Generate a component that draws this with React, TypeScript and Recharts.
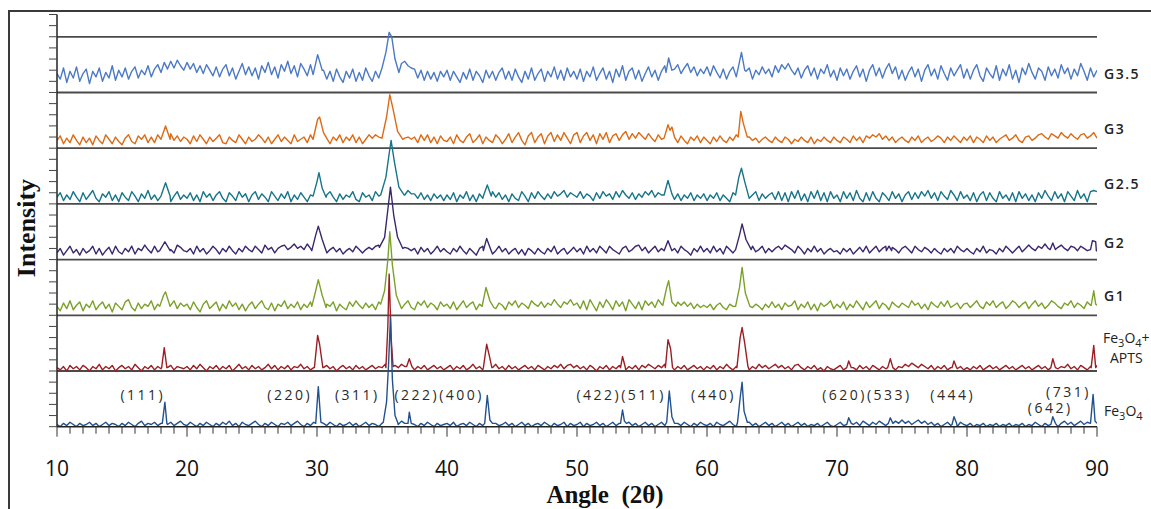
import React from 'react'
import { LineChart, Line, XAxis, YAxis, ReferenceLine, ReferenceDot } from 'recharts'

// background noise of each pattern, read every 0.25 deg from 10 to 90,
// in tenths of a y-tick above the floor of its own panel
const fe3o4Noise = [
  2, 0, 3, 1, 4, 2, 0, 3, 1, 2, 4, 1, 3, 0, 2, 4, 1, 3, 2, 0, 3, 1, 4, 2, 0, 3, 5, 1, 3, 2, 4, 1, 3, 0, 2, 4, 1, 3, 5, 2,
  1, 4, 2, 0, 3, 1, 4, 2, 0, 3, 1, 4, 2, 5, 1, 3, 0, 4, 2, 1, 3, 5, 2, 0, 3, 1, 4, 2, 0, 3, 2, 4, 1, 3, 5, 2, 0, 3, 1, 4,
  2, 0, 3, 1, 4, 2, 0, 3, 1, 2, 4, 1, 3, 0, 2, 4, 1, 3, 2, 0, 3, 5, 2, 6, 4, 2, 5, 3, 1, 4, 2, 0, 3, 1, 4, 2, 0, 3, 1, 2,
  3, 1, 4, 0, 2, 3, 1, 4, 2, 0, 3, 1, 2, 4, 0, 3, 1, 2, 4, 1, 3, 0, 2, 4, 1, 3, 0, 2, 3, 1, 4, 2, 0, 3, 1, 2, 4, 0, 3, 1,
  2, 4, 0, 3, 1, 2, 4, 1, 3, 0, 2, 4, 1, 3, 5, 2, 4, 1, 3, 0, 2, 4, 1, 3, 0, 2, 4, 1, 3, 2, 0, 3, 1, 4, 2, 0, 3, 1, 4, 2,
  1, 3, 0, 4, 2, 1, 3, 5, 2, 0, 3, 5, 2, 4, 1, 3, 0, 2, 4, 1, 3, 0, 2, 4, 1, 3, 0, 2, 4, 1, 3, 0, 2, 1, 3, 0, 2, 4, 1, 0,
  2, 4, 1, 3, 0, 2, 4, 1, 5, 3, 1, 4, 2, 5, 3, 1, 4, 2, 5, 3, 6, 3, 5, 2, 4, 6, 3, 5, 2, 4, 1, 3, 0, 2, 4, 1, 3, 0, 4, 2,
  1, 3, 0, 2, 1, 3, 0, 2, 1, 3, 0, 2, 1, 3, 0, 2, 1, 3, 0, 2, 1, 4, 2, 0, 3, 1, 4, 2, 0, 3, 5, 2, 4, 1, 3, 5, 2, 4, 1, 3,
  3,
]
const aptsNoise = [
  3, 1, 4, 0, 5, 2, 4, 1, 5, 3, 0, 4, 2, 6, 1, 4, 2, 5, 0, 3, 5, 2, 4, 1, 6, 3, 0, 4, 2, 5, 1, 4, 2, 6, 3, 5, 1, 4, 3, 2,
  4, 1, 5, 2, 6, 3, 0, 4, 2, 5, 1, 4, 2, 5, 0, 3, 6, 2, 4, 1, 5, 2, 4, 1, 3, 6, 2, 5, 1, 4, 2, 5, 1, 4, 3, 6, 2, 4, 1, 3,
  4, 1, 3, 5, 2, 4, 0, 3, 5, 2, 4, 1, 5, 2, 4, 1, 3, 5, 2, 4, 3, 6, 4, 7, 5, 3, 6, 4, 5, 3, 1, 4, 2, 5, 1, 3, 5, 2, 4, 1,
  3, 5, 1, 4, 2, 5, 1, 3, 6, 2, 4, 1, 5, 2, 3, 6, 2, 4, 1, 5, 2, 4, 1, 3, 5, 2, 4, 1, 5, 3, 1, 4, 2, 5, 3, 6, 2, 5, 6, 3,
  5, 2, 4, 1, 5, 3, 0, 4, 2, 5, 1, 4, 2, 5, 3, 1, 4, 2, 5, 1, 5, 3, 6, 4, 2, 5, 3, 6, 4, 2, 1, 4, 2, 5, 1, 3, 5, 2, 4, 1,
  4, 2, 5, 1, 4, 2, 6, 3, 1, 4, 2, 5, 3, 1, 4, 2, 6, 3, 5, 2, 4, 6, 3, 5, 2, 4, 1, 5, 6, 3, 1, 4, 2, 5, 1, 3, 0, 4, 2, 1,
  3, 5, 1, 4, 6, 3, 1, 5, 2, 4, 1, 5, 3, 1, 4, 2, 5, 3, 1, 4, 3, 6, 4, 7, 5, 3, 6, 4, 2, 5, 1, 4, 2, 5, 1, 3, 5, 2, 4, 1,
  3, 1, 4, 2, 5, 1, 3, 5, 2, 4, 1, 3, 5, 2, 4, 1, 3, 5, 2, 4, 1, 3, 5, 2, 4, 1, 3, 5, 2, 4, 3, 6, 2, 4, 1, 5, 3, 1, 4, 2,
  5,
]
const g1Noise = [
  8, 4, 11, 6, 13, 5, 9, 12, 4, 10, 7, 13, 5, 9, 12, 6, 10, 3, 11, 8, 5, 12, 14, 7, 4, 11, 6, 10, 8, 13, 5, 10, 4, 12, 7, 9, 13, 6, 11, 8,
  10, 5, 12, 7, 3, 10, 13, 6, 9, 12, 4, 10, 6, 13, 8, 11, 5, 10, 4, 9, 12, 6, 10, 13, 7, 5, 11, 4, 10, 8, 13, 6, 10, 7, 12, 5, 10, 7, 12, 9,
  7, 12, 5, 10, 8, 12, 4, 10, 7, 5, 12, 8, 13, 9, 6, 11, 7, 10, 5, 12, 9, 6, 10, 14, 8, 12, 6, 10, 13, 7, 5, 12, 9, 13, 7, 11, 9, 5, 12, 8,
  10, 6, 12, 5, 9, 13, 7, 10, 12, 5, 10, 7, 12, 9, 13, 6, 11, 9, 5, 12, 9, 13, 7, 11, 9, 6, 13, 10, 8, 12, 7, 11, 9, 14, 10, 7, 12, 10, 14, 9,
  11, 6, 13, 5, 14, 9, 4, 12, 7, 14, 10, 5, 13, 8, 12, 4, 14, 10, 6, 12, 5, 13, 9, 12, 7, 14, 10, 8, 14, 11, 15, 12, 9, 12, 8, 11, 6, 10, 7, 9,
  7, 10, 5, 9, 11, 7, 5, 10, 8, 11, 12, 6, 10, 12, 7, 10, 8, 5, 10, 7, 12, 7, 10, 5, 11, 8, 9, 13, 5, 10, 7, 12, 5, 10, 4, 11, 8, 10, 13, 6,
  10, 7, 12, 5, 10, 7, 13, 9, 5, 12, 7, 10, 13, 6, 11, 9, 5, 12, 9, 7, 11, 9, 7, 13, 9, 11, 6, 10, 5, 12, 9, 7, 12, 8, 13, 7, 9, 11, 6, 10,
  11, 7, 10, 13, 8, 6, 12, 9, 13, 7, 10, 12, 6, 9, 13, 11, 7, 10, 12, 6, 10, 13, 8, 11, 6, 9, 13, 11, 8, 6, 11, 9, 13, 7, 11, 9, 6, 12, 9, 13,
  9,
]
const g2Noise = [
  6, 10, 4, 8, 12, 6, 9, 4, 10, 6, 8, 12, 5, 10, 4, 8, 11, 5, 12, 7, 5, 10, 7, 12, 5, 10, 8, 13, 9, 6, 12, 7, 10, 5, 12, 9, 6, 13, 11, 8,
  7, 10, 5, 12, 7, 10, 5, 8, 12, 9, 5, 10, 7, 12, 8, 5, 10, 7, 12, 9, 7, 12, 9, 6, 13, 9, 11, 6, 10, 12, 13, 9, 11, 14, 10, 12, 9, 14, 10, 12,
  10, 8, 11, 6, 9, 11, 7, 10, 5, 8, 10, 7, 12, 9, 6, 9, 11, 9, 12, 13, 12, 13, 14, 12, 11, 10, 9, 11, 10, 8, 10, 5, 11, 7, 10, 5, 8, 12, 7, 10,
  7, 5, 10, 7, 12, 8, 5, 10, 7, 4, 10, 12, 7, 10, 5, 8, 12, 7, 10, 5, 8, 10, 5, 9, 4, 10, 8, 5, 10, 7, 5, 10, 7, 12, 5, 8, 10, 5, 8, 11,
  7, 10, 5, 12, 7, 10, 6, 12, 9, 6, 12, 9, 7, 5, 10, 12, 7, 9, 12, 13, 8, 11, 6, 9, 12, 7, 10, 5, 12, 7, 10, 6, 12, 9, 7, 4, 10, 7, 12, 7,
  10, 6, 12, 7, 10, 5, 12, 9, 6, 11, 9, 5, 8, 10, 12, 7, 9, 12, 6, 10, 7, 10, 12, 9, 13, 11, 9, 6, 12, 9, 5, 10, 7, 12, 7, 10, 5, 8, 10, 7,
  8, 5, 10, 7, 10, 5, 8, 11, 7, 12, 6, 9, 12, 7, 10, 12, 13, 11, 9, 6, 10, 12, 9, 6, 12, 9, 7, 11, 9, 6, 10, 7, 5, 10, 7, 10, 6, 12, 9, 7,
  10, 7, 5, 10, 7, 12, 6, 9, 8, 5, 10, 7, 12, 9, 6, 9, 12, 7, 10, 13, 10, 8, 12, 10, 14, 10, 12, 8, 11, 13, 10, 8, 12, 11, 8, 12, 10, 8, 12, 13,
  8,
]
const g25Noise = [
  6, 10, 3, 8, 4, 11, 6, 2, 10, 4, 8, 12, 5, 2, 9, 6, 11, 3, 8, 2, 10, 6, 3, 11, 7, 2, 9, 5, 12, 4, 8, 3, 11, 6, 9, 2, 7, 11, 4, 8,
  5, 10, 3, 8, 2, 11, 6, 9, 3, 8, 11, 5, 2, 10, 7, 3, 11, 6, 9, 2, 8, 11, 4, 9, 6, 2, 11, 7, 3, 9, 5, 11, 2, 8, 4, 10, 6, 2, 8, 10,
  5, 10, 3, 8, 11, 6, 2, 9, 4, 8, 6, 11, 4, 2, 10, 6, 8, 3, 11, 7, 9, 6, 10, 12, 9, 7, 10, 8, 12, 9, 9, 5, 10, 4, 8, 3, 9, 5, 8, 3,
  8, 4, 10, 2, 8, 5, 11, 3, 8, 2, 9, 5, 3, 8, 11, 6, 10, 4, 8, 2, 9, 5, 3, 11, 7, 2, 10, 5, 11, 7, 4, 9, 5, 11, 7, 9, 12, 6, 10, 8,
  6, 11, 5, 9, 7, 3, 10, 5, 11, 7, 9, 4, 11, 6, 12, 8, 5, 10, 4, 9, 6, 11, 8, 12, 6, 10, 8, 13, 8, 10, 4, 9, 3, 8, 5, 10, 3, 8, 5, 9,
  3, 8, 5, 10, 3, 8, 5, 2, 10, 5, 8, 3, 10, 5, 8, 11, 3, 9, 5, 8, 10, 4, 11, 3, 10, 2, 11, 5, 12, 3, 9, 2, 11, 5, 12, 3, 10, 2, 11, 5,
  8, 2, 11, 5, 10, 3, 12, 5, 2, 10, 3, 11, 5, 2, 10, 7, 3, 11, 5, 9, 2, 8, 11, 4, 10, 5, 11, 7, 12, 5, 10, 3, 11, 7, 4, 12, 8, 3, 11, 5,
  8, 3, 10, 2, 8, 11, 3, 10, 5, 2, 11, 5, 8, 3, 10, 2, 11, 5, 9, 3, 8, 2, 10, 5, 12, 7, 3, 11, 5, 9, 2, 11, 7, 3, 12, 5, 9, 2, 11, 12,
  11,
]
const g3Noise = [
  7, 11, 4, 9, 5, 12, 7, 3, 10, 5, 9, 3, 11, 7, 4, 12, 8, 4, 10, 6, 3, 9, 12, 6, 4, 11, 8, 12, 5, 10, 5, 12, 8, 6, 10, 13, 7, 11, 6, 10,
  8, 4, 11, 6, 12, 8, 4, 10, 6, 9, 12, 5, 4, 10, 7, 5, 12, 8, 4, 10, 6, 8, 12, 9, 5, 10, 4, 8, 12, 6, 10, 7, 4, 12, 6, 8, 10, 5, 12, 8,
  10, 5, 12, 7, 4, 10, 7, 12, 5, 10, 7, 12, 5, 10, 4, 8, 12, 9, 12, 10, 12, 11, 13, 11, 10, 12, 11, 9, 10, 8, 10, 5, 12, 7, 12, 5, 10, 4, 11, 7,
  6, 10, 4, 12, 7, 5, 10, 13, 5, 8, 12, 4, 10, 7, 5, 12, 9, 4, 8, 13, 5, 10, 14, 7, 3, 11, 14, 5, 10, 13, 4, 11, 14, 6, 12, 7, 14, 9, 4, 12,
  14, 5, 11, 14, 7, 12, 4, 13, 8, 14, 5, 11, 13, 7, 12, 15, 8, 13, 9, 14, 11, 8, 13, 9, 6, 12, 8, 5, 11, 7, 10, 5, 11, 7, 4, 10, 7, 11, 5, 10,
  7, 4, 10, 6, 11, 7, 5, 10, 7, 12, 9, 11, 13, 10, 7, 9, 5, 8, 10, 7, 5, 10, 7, 5, 10, 8, 4, 8, 6, 10, 7, 5, 10, 4, 8, 6, 10, 7, 5, 10,
  7, 5, 10, 8, 5, 11, 7, 10, 5, 11, 9, 12, 10, 13, 8, 11, 7, 10, 5, 8, 10, 7, 5, 10, 7, 11, 5, 8, 10, 6, 8, 11, 9, 5, 10, 7, 11, 8, 5, 10,
  7, 11, 5, 10, 8, 5, 11, 7, 10, 5, 8, 10, 12, 7, 9, 12, 7, 5, 10, 11, 7, 9, 12, 13, 10, 8, 13, 11, 9, 14, 11, 9, 13, 10, 8, 12, 13, 9, 11, 14,
  9,
]
const g35Noise = [
  17, 12, 22, 9, 19, 13, 23, 10, 17, 21, 8, 19, 14, 22, 10, 18, 13, 24, 11, 20, 14, 22, 12, 19, 23, 13, 20, 16, 24, 14, 21, 25, 18, 27, 21, 28, 22, 29, 24, 20,
  27, 21, 26, 18, 24, 17, 25, 20, 15, 23, 14, 21, 25, 15, 22, 12, 19, 26, 16, 23, 15, 22, 12, 24, 18, 27, 16, 23, 13, 25, 19, 28, 17, 24, 14, 26, 21, 15, 25, 19,
  16, 11, 20, 12, 19, 10, 21, 14, 9, 19, 13, 21, 10, 18, 11, 22, 15, 10, 19, 13, 20, 23, 26, 21, 24, 23, 26, 28, 24, 22, 21, 13, 20, 11, 19, 12, 18, 10, 19, 14,
  20, 11, 19, 14, 9, 18, 12, 21, 11, 19, 15, 9, 20, 13, 19, 11, 18, 22, 12, 19, 11, 21, 14, 9, 19, 12, 22, 11, 17, 21, 10, 19, 14, 23, 12, 20, 11, 22, 14, 19,
  12, 21, 10, 19, 14, 23, 11, 17, 22, 12, 19, 9, 21, 14, 24, 11, 19, 22, 12, 20, 10, 17, 23, 14, 20, 11, 19, 24, 12, 20, 21, 25, 17, 22, 26, 18, 23, 15, 21, 17,
  23, 15, 24, 18, 13, 21, 12, 19, 23, 14, 20, 10, 19, 22, 12, 20, 16, 23, 17, 21, 14, 24, 18, 25, 21, 26, 20, 16, 22, 13, 20, 24, 15, 22, 12, 21, 17, 25, 14, 20,
  11, 22, 15, 21, 12, 19, 24, 14, 21, 10, 20, 25, 15, 22, 13, 21, 26, 17, 23, 12, 20, 11, 18, 23, 14, 21, 10, 20, 25, 15, 21, 12, 24, 17, 11, 22, 15, 20, 25, 13,
  21, 12, 20, 25, 15, 10, 22, 17, 13, 24, 11, 21, 15, 25, 12, 20, 9, 22, 16, 26, 18, 12, 22, 19, 11, 23, 15, 21, 13, 25, 17, 22, 12, 21, 15, 26, 19, 11, 22, 14,
  20,
]

// reflections: [angle, height] points, same units as the noise
const fe3o4Peaks = [
  [[18.1, 3], [18.3, 22], [18.45, 3]],
  [[29.9, 3], [30.1, 36], [30.3, 4]],
  [[35.1, 4], [35.35, 22], [35.5, 55], [35.65, 98], [35.8, 42], [36.0, 10], [36.2, 4]],
  [[37.0, 3], [37.1, 13], [37.25, 3]],
  [[42.9, 3], [43.1, 28], [43.3, 6], [43.5, 3]],
  [[53.35, 3], [53.5, 15], [53.65, 5], [53.8, 3]],
  [[56.9, 4], [57.1, 32], [57.3, 9], [57.5, 3]],
  [[62.35, 4], [62.55, 26], [62.7, 40], [62.85, 14], [63.1, 4]],
  [[70.75, 2], [70.9, 8], [71.1, 3]],
  [[73.95, 3], [74.1, 8], [74.3, 3]],
  [[78.85, 2], [79.0, 9], [79.2, 3]],
  [[86.45, 2], [86.6, 9], [86.8, 3]],
  [[89.5, 3], [89.7, 29], [89.85, 5]],
]
const aptsPeaks = [
  [[18.05, 3], [18.25, 21], [18.45, 3]],
  [[29.8, 3], [30.05, 32], [30.2, 24], [30.45, 3]],
  [[35.3, 3], [35.45, 40], [35.55, 87], [35.7, 30], [35.85, 4]],
  [[36.9, 4], [37.1, 11], [37.3, 4]],
  [[42.8, 3], [43.05, 24], [43.25, 14], [43.45, 3]],
  [[53.35, 3], [53.5, 13], [53.7, 4]],
  [[56.8, 3], [57.0, 28], [57.2, 20], [57.35, 3]],
  [[62.3, 3], [62.55, 30], [62.7, 39], [62.9, 25], [63.15, 4]],
  [[70.75, 3], [70.9, 9], [71.1, 3]],
  [[73.9, 3], [74.1, 11], [74.3, 3]],
  [[78.85, 3], [79.0, 9], [79.2, 3]],
  [[86.45, 3], [86.6, 11], [86.8, 3]],
  [[89.55, 3], [89.75, 23], [89.9, 3]],
]
const g1Peaks = [
  [[17.9, 8], [18.2, 18], [18.35, 21], [18.7, 8]],
  [[29.6, 8], [29.9, 22], [30.1, 32], [30.4, 18], [30.7, 7]],
  [[34.9, 10], [35.2, 22], [35.45, 50], [35.6, 75], [35.8, 45], [36.1, 18], [36.4, 9]],
  [[42.7, 8], [43.0, 25], [43.3, 13], [43.6, 7]],
  [[56.6, 9], [56.9, 25], [57.05, 31], [57.3, 12], [57.6, 8]],
  [[62.2, 8], [62.5, 25], [62.7, 43], [62.95, 20], [63.3, 8]],
  [[89.55, 9], [89.75, 22], [89.9, 10]],
]
const g2Peaks = [
  [[17.9, 8], [18.3, 16], [18.7, 8]],
  [[29.6, 8], [29.9, 22], [30.1, 30], [30.4, 18], [30.7, 8]],
  [[34.8, 11], [35.2, 20], [35.45, 45], [35.65, 65], [35.9, 40], [36.2, 20], [36.6, 10]],
  [[42.8, 8], [43.05, 19], [43.4, 8]],
  [[56.7, 8], [57.0, 17], [57.3, 8]],
  [[62.2, 9], [62.5, 22], [62.7, 32], [63.0, 18], [63.4, 9]],
  [[73.8, 8], [74.0, 12], [74.2, 8]],
  [[86.4, 9], [86.6, 15], [86.8, 9]],
  [[89.5, 9], [89.65, 17], [89.9, 16], [89.95, 8]],
]
const g25Peaks = [
  [[18.0, 7], [18.35, 19], [18.7, 7]],
  [[29.7, 7], [30.0, 20], [30.15, 28], [30.4, 14], [30.7, 6]],
  [[34.9, 8], [35.3, 24], [35.55, 45], [35.7, 57], [35.95, 38], [36.3, 15], [36.7, 8]],
  [[42.8, 7], [43.1, 17], [43.4, 7]],
  [[56.7, 8], [57.0, 21], [57.3, 9]],
  [[62.2, 8], [62.45, 24], [62.65, 32], [62.9, 20], [63.2, 7]],
]
const g3Peaks = [
  [[18.0, 8], [18.35, 20], [18.7, 8]],
  [[29.7, 8], [30.05, 26], [30.2, 28], [30.5, 14], [30.8, 8]],
  [[35.0, 9], [35.35, 28], [35.6, 48], [35.85, 35], [36.2, 15], [36.6, 8]],
  [[56.7, 9], [57.0, 21], [57.15, 16], [57.3, 19], [57.5, 10]],
  [[62.4, 10], [62.6, 33], [62.8, 22], [63.1, 10]],
]
const g35Peaks = [
  [[29.7, 16], [30.05, 34], [30.4, 20]],
  [[35.0, 22], [35.3, 36], [35.55, 54], [35.75, 50], [36.0, 30], [36.3, 18]],
  [[56.85, 18], [57.05, 31], [57.3, 20]],
  [[62.4, 22], [62.65, 36], [62.9, 20]],
]

const hklLabels = [
  { text: '(111)', x: 16.6, y: 2.85 },
  { text: '(220)', x: 27.9, y: 2.85 },
  { text: '(311)', x: 33.1, y: 2.9 },
  { text: '(222)(400)', x: 39.4, y: 2.85 },
  { text: '(422)(511)', x: 53.4, y: 2.85 },
  { text: '(440)', x: 60.5, y: 2.85 },
  { text: '(620)(533)', x: 72.3, y: 2.85 },
  { text: '(444)', x: 78.9, y: 2.85 },
  { text: '(731)', x: 87.8, y: 3.2 },
  { text: '(642)', x: 86.4, y: 1.68 },
]

const xTicks = Array.from({ length: 81 }, (_, i) => 10 + i)
const yTicks = Array.from({ length: 38 }, (_, i) => i)
const panelLines = [5, 10, 15, 20, 25, 30, 35]

function buildPoints(noise: number[], peaks: number[][][], offset: number) {
  const pts: { x: number; y: number }[] = []
  noise.forEach((v, i) => {
    const x = 10 + i * 0.25
    if (peaks.some(g => x >= g[0][0] && x <= g[g.length - 1][0])) return
    pts.push({ x, y: offset + v / 10 })
  })
  peaks.forEach(g => g.forEach(([x, v]) => pts.push({ x, y: offset + v / 10 })))
  return pts.sort((a, b) => a.x - b.x)
}

const series = [
  { name: 'G3.5', color: '#4b79c6', data: buildPoints(g35Noise, g35Peaks, 30) },
  { name: 'G3', color: '#dd6a14', data: buildPoints(g3Noise, g3Peaks, 25) },
  { name: 'G2.5', color: '#17748a', data: buildPoints(g25Noise, g25Peaks, 20) },
  { name: 'G2', color: '#3a276e', data: buildPoints(g2Noise, g2Peaks, 15) },
  { name: 'G1', color: '#7ca12b', data: buildPoints(g1Noise, g1Peaks, 10) },
  { name: 'Fe3O4+APTS', color: '#9c1e24', data: buildPoints(aptsNoise, aptsPeaks, 5) },
  { name: 'Fe3O4', color: '#22518f', data: buildPoints(fe3o4Noise, fe3o4Peaks, 0) },
]

const sans = "'Open Sans', 'Noto Sans', sans-serif"
const serif = "'Liberation Serif', 'DejaVu Serif', serif"

const XTick = (props: any) => {
  const { x, y, payload } = props
  const major = payload.value % 10 === 0
  return (
    <g>
      <line x1={x} y1={y} x2={x} y2={y + (major ? 10 : 7)} stroke='#333' strokeWidth={1} />
      {major && (
        <text x={x} y={y + 49} textAnchor='middle' fontSize={21} fontFamily={sans} fill='#111'>
          {payload.value}
        </text>
      )}
    </g>
  )
}

const YTick = (props: any) => {
  const { x, y } = props
  return <line x1={x - 8} y1={y} x2={x} y2={y} stroke='#444' strokeWidth={1} />
}

const sub = { fontSize: 11 }

export default function App() {
  return (
    <div style={{ position: 'fixed', left: 0, top: 0, width: 1151, height: 509, overflow: 'hidden', background: '#fff' }}>
      <div
        style={{
          position: 'absolute', left: 8, top: 10, right: 0, bottom: 0,
          borderLeft: '2px solid #3a3a3a', borderTop: '2px solid #3a3a3a',
        }}
      />
      <div style={{ position: 'absolute', left: 0, top: 0 }}>
        <LineChart width={1151} height={509} margin={{ top: 14.5, right: 54, left: 0, bottom: 52.3 }}>
          <XAxis
            type='number'
            dataKey='x'
            domain={[10, 90]}
            ticks={xTicks}
            interval={0}
            tickSize={0}
            tickMargin={0}
            tick={(p: any) => <XTick {...p} />}
            axisLine={{ stroke: '#222', strokeWidth: 1.5 }}
            height={30}
            allowDataOverflow
          />
          <YAxis
            type='number'
            domain={[0, 37]}
            ticks={yTicks}
            interval={0}
            tickSize={0}
            tickMargin={0}
            tick={(p: any) => <YTick {...p} />}
            axisLine={{ stroke: '#222', strokeWidth: 1.5 }}
            width={57}
            allowDataOverflow
          />
          {panelLines.map(v => (
            <ReferenceLine key={v} y={v} stroke='#4a4a4a' strokeWidth={1.8} />
          ))}
          {series.map(s => (
            <Line
              key={s.name}
              data={s.data}
              dataKey='y'
              type='linear'
              stroke={s.color}
              strokeWidth={1.4}
              strokeLinejoin='round'
              dot={false}
              activeDot={false}
              isAnimationActive={false}
            />
          ))}
          {hklLabels.map(l => (
            <ReferenceDot
              key={l.text}
              x={l.x}
              y={l.y}
              r={0}
              ifOverflow='visible'
              shape={(p: any) => (
                <text
                  x={p.cx}
                  y={p.cy}
                  textAnchor='middle'
                  dominantBaseline='central'
                  fontSize={14}
                  fontFamily={sans}
                  letterSpacing={2.5}
                  fill='#2a2a2a'
                >
                  {l.text}
                </text>
              )}
            />
          ))}
        </LineChart>
      </div>
      <svg width={1151} height={509} style={{ position: 'absolute', left: 0, top: 0, pointerEvents: 'none' }}>
        <text
          transform='translate(35,228) rotate(-90)'
          textAnchor='middle'
          fontSize={26}
          fontWeight='bold'
          fontFamily={serif}
          fill='#111'
        >
          Intensity
        </text>
        <text x={605} y={503} textAnchor='middle' fontSize={25} fontWeight='bold' fontFamily={serif} fill='#111' style={{ whiteSpace: 'pre' }}>
          {'Angle  (2θ)'}
        </text>
        <g fontFamily={sans} fontSize={14} fontWeight={600} fill='#222' letterSpacing={1.5} dominantBaseline='central'>
          <text x={1104} y={73}>G3.5</text>
          <text x={1104} y={128}>G3</text>
          <text x={1104} y={183}>G2.5</text>
          <text x={1104} y={242}>G2</text>
          <text x={1104} y={295}>G1</text>
        </g>
        <g fontFamily={sans} fontSize={14} fill='#222'>
          <text x={1103} y={343}>
            Fe<tspan dy={4} style={sub}>3</tspan><tspan dy={-4}>O</tspan><tspan dy={4} style={sub}>4</tspan><tspan dy={-4}>+</tspan>
          </text>
          <text x={1110} y={363}>APTS</text>
          <text x={1104} y={416}>
            Fe<tspan dy={4} style={sub}>3</tspan><tspan dy={-4}>O</tspan><tspan dy={4} style={sub}>4</tspan>
          </text>
        </g>
      </svg>
    </div>
  )
}
